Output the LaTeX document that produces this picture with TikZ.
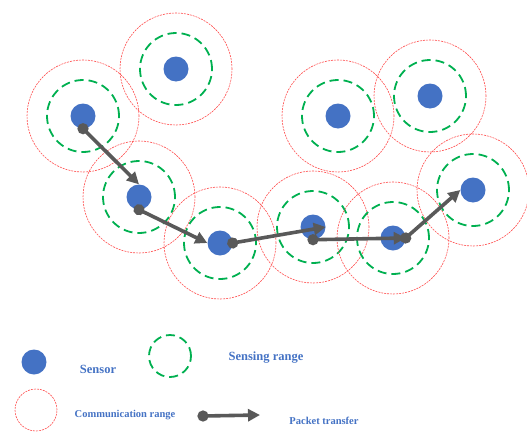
\documentclass[tikz,border=0pt]{standalone}
\usepackage{fontspec}
\setmainfont{Liberation Serif}
\usetikzlibrary{arrows.meta}
\definecolor{sensorblue}{HTML}{4472C4}
\definecolor{sensegreen}{HTML}{00B050}
\definecolor{commred}{HTML}{FF4D4D}
\definecolor{packetgray}{HTML}{595959}
\tikzset{
  sensor/.style={circle,fill=sensorblue,minimum size=25pt,inner sep=0pt},
  senserange/.style={draw=sensegreen,line width=1.8pt,dash pattern=on 9pt off 5pt},
  commrange/.style={draw=commred,line width=0.6pt,dash pattern=on 2pt off 1pt},
  packet/.style={draw=packetgray,line width=3.6pt,
    {Circle[length=11pt,width=11pt]}-{Triangle[length=12pt,width=12pt]},shorten <=-5.5pt},
  legtext/.style={text=sensorblue,font=\bfseries\fontsize{10.5}{12}\selectfont}
}
\begin{document}
\begin{tikzpicture}[x=1pt,y=-1pt]
	\useasboundingbox (0,0) rectangle (527,431);
	% sensors
	\node[sensor] (s1) at (83,116) {};
	\node[sensor] (s2) at (176,69) {};
	\node[sensor] (s3) at (139,197) {};
	\node[sensor] (s4) at (220,243) {};
	\node[sensor] (s5) at (313,227) {};
	\node[sensor] (s6) at (393,238) {};
	\node[sensor] (s7) at (473,190) {};
	\node[sensor] (s8) at (338,116) {};
	\node[sensor] (s9) at (430,96) {};
	\foreach \s in {s1,s2,s3,s4,s5,s6,s7,s8,s9} {
		\draw[commrange] (\s.center) circle (56pt);
		\draw[senserange] (\s.center) circle (36pt);
	}
	% packet route
	\draw[packet] (s1.south) -- (s3.north);
	\draw[packet] (s3.south) -- (s4.west);
	\draw[packet] (s4.east) -- (s5.east);
	\draw[packet] (s5.south) -- (s6.east);
	\draw[packet] (s6.east) -- (s7.west);
	% legend
	\node[sensor] (legsensor) at (34,362) {};
	\node[legtext,font=\bfseries\fontsize{12.5}{14}\selectfont] (sensorlbl) at (98,369) {Sensor};
	\coordinate (legsense) at (170,356);
	\draw[senserange] (legsense) circle (21pt);
	\node[legtext,font=\bfseries\fontsize{12.5}{14}\selectfont] (senselbl) at (266,358) {Sensing range};
	\coordinate (legcomm) at (36,410);
	\draw[commrange] (legcomm) circle (21pt);
	\node[legtext] (commlbl) at (125,415) {Communication range};
	\coordinate (pktstart) at (203,416);
	\coordinate (pktend) at (260,415);
	\draw[packet] (pktstart) -- (pktend);
	\node[legtext] (pktlbl) at (324,421) {Packet transfer};
\end{tikzpicture}
\end{document}
